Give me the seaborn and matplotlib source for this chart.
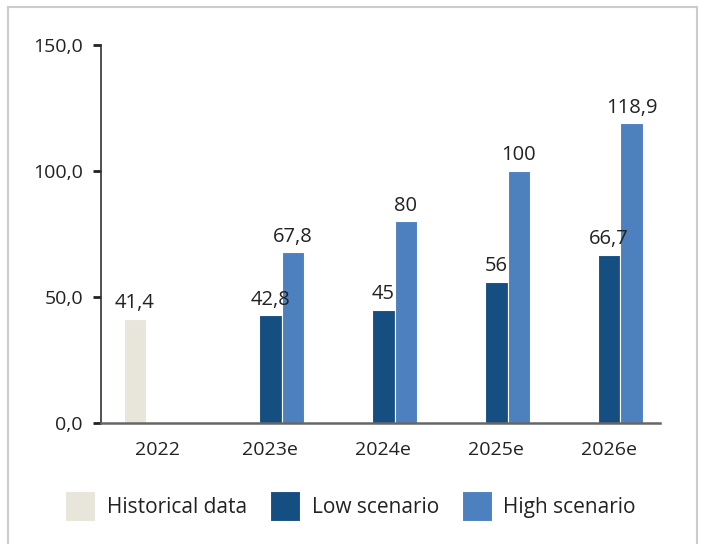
import numpy as np
import pandas as pd
import matplotlib
matplotlib.use("Agg")
import matplotlib.pyplot as plt
import matplotlib.ticker as mticker
from matplotlib.patches import Rectangle
import seaborn as sns

# --- data ---
years = ["2022", "2023e", "2024e", "2025e", "2026e"]
historical = [41.4]                     # 2022 only
low_scenario = [42.8, 45, 56, 66.7]     # 2023e..2026e
high_scenario = [67.8, 80, 100, 118.9]  # 2023e..2026e
series_names = ["Historical data", "Low scenario", "High scenario"]

COL_HIST = "#E8E6DA"
COL_LOW = "#154F82"
COL_HIGH = "#4D80BF"
TXT = "#222222"

rows = [(years[0], series_names[0], historical[0])]
rows += [(y, series_names[1], v) for y, v in zip(years[1:], low_scenario)]
rows += [(y, series_names[2], v) for y, v in zip(years[1:], high_scenario)]
df = pd.DataFrame(rows, columns=["year", "series", "value"])

sns.set_theme(style="white")
plt.rcParams['font.family'] = ['Open Sans', 'DejaVu Sans']

fig = plt.figure(figsize=(7.04, 5.44), dpi=100)
ax = fig.add_axes([0.1435, 0.2224, 0.794, 0.695])

sns.barplot(data=df, x="year", y="value", hue="series", order=years,
            hue_order=series_names, palette=[COL_HIST, COL_LOW, COL_HIGH],
            width=0.6, saturation=1, edgecolor="white", linewidth=0.8, ax=ax)

handles, labels = ax.get_legend_handles_labels()
ax.legend_.remove()

def fmt(v):
    return f"{v:g}".replace(".", ",")

for cont in ax.containers:
    vals = [b.get_height() for b in cont]
    ax.bar_label(cont, labels=[fmt(v) for v in vals], padding=4,
                 fontsize=14.5, color=TXT)

ax.set_ylim(0, 150)
ax.set_yticks([0, 50, 100, 150])
ax.yaxis.set_major_formatter(mticker.FuncFormatter(lambda v, p: f"{v:.1f}".replace(".", ",")))
ax.set_xlim(-0.5, 4.45)
ax.set_xlabel("")
ax.set_ylabel("")

for s in ["top", "right"]:
    ax.spines[s].set_visible(False)
ax.spines["left"].set_color("#333333")
ax.spines["bottom"].set_color("#666666")
ax.spines["left"].set_linewidth(1.2)
ax.spines["bottom"].set_linewidth(1.8)
ax.tick_params(axis="y", length=6, width=2, color="#222222", labelsize=14,
               labelcolor=TXT, pad=7, left=True)
ax.tick_params(axis="x", length=0, labelsize=14, labelcolor=TXT, pad=13)

fig.legend(handles, labels, loc="center", bbox_to_anchor=(0.498, 0.07), ncol=3,
           frameon=False, fontsize=15, handlelength=1.45, handleheight=1.9,
           handletextpad=0.55, columnspacing=1.1, labelcolor=TXT)

# light frame around the chart
fig.patches.append(Rectangle((8 / 704, -0.05), 689 / 704, 1 - 7 / 544 + 0.05,
                             transform=fig.transFigure, fill=False,
                             edgecolor="#CCCCCC", linewidth=1.5, zorder=-1))

fig.savefig("out.png", dpi=100)
